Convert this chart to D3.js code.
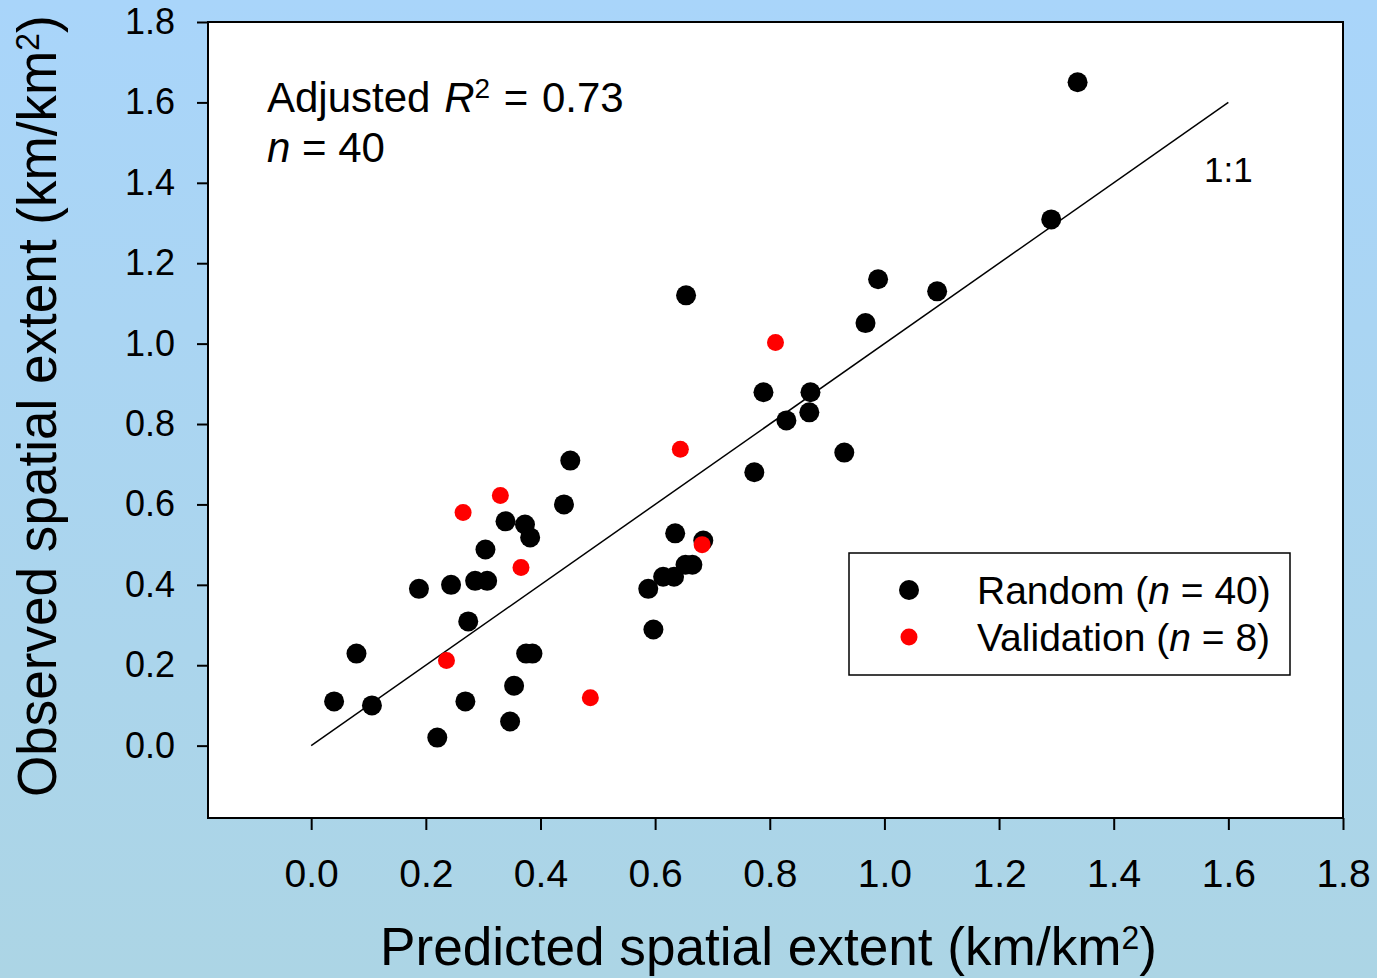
<!DOCTYPE html>
<html><head><meta charset="utf-8">
<script src="https://cdn.jsdelivr.net/npm/d3@7"></script>
<style>body{margin:0;} svg{display:block;font-family:"Liberation Sans",Arial,Helvetica,sans-serif;}</style>
</head><body>
<svg id="c" width="1377" height="978"></svg>
<script>
// ---- data ----
const randomX = [0.040,0.079,0.106,0.188,0.220,0.244,0.269,0.274,0.286,0.304,0.307,0.339,0.347,0.354,0.373,0.375,0.382,0.386,0.441,0.452,0.588,0.597,0.614,0.633,0.635,0.653,0.665,0.654,0.684,0.773,0.789,0.829,0.869,0.871,0.930,0.967,0.989,1.092,1.291,1.337];
const randomY = [0.110,0.229,0.100,0.390,0.020,0.400,0.110,0.309,0.410,0.488,0.410,0.558,0.060,0.149,0.550,0.229,0.518,0.229,0.600,0.709,0.390,0.289,0.420,0.420,0.528,0.450,0.450,1.120,0.510,0.680,0.879,0.809,0.829,0.879,0.729,1.051,1.160,1.130,1.309,1.650];
const validX = [0.236,0.265,0.330,0.366,0.487,0.644,0.682,0.810];
const validY = [0.212,0.580,0.622,0.443,0.119,0.737,0.500,1.003];
const oneToOne = [0, 1.6];
const tickValues = [0,0.2,0.4,0.6,0.8,1.0,1.2,1.4,1.6,1.8];
const tickLabels = ["0.0","0.2","0.4","0.6","0.8","1.0","1.2","1.4","1.6","1.8"];
const domainMin = -0.18, domainMax = 1.8;

// ---- layout ----
const svg = d3.select("#c");
const L = 208, R = 1343, T = 22, B = 818;
const x = d3.scaleLinear().domain([domainMin, domainMax]).range([L, R]);
const y = d3.scaleLinear().domain([domainMin, domainMax]).range([B, T]);

const defs = svg.append("defs");
const grad = defs.append("linearGradient").attr("id","bg").attr("x1",0).attr("y1",0).attr("x2",0).attr("y2",1);
grad.append("stop").attr("offset","0%").attr("stop-color","#a9d5fa");
grad.append("stop").attr("offset","100%").attr("stop-color","#acd5e5");
svg.append("rect").attr("width",1377).attr("height",978).attr("fill","url(#bg)");

svg.append("rect").attr("x",L).attr("y",T).attr("width",R-L).attr("height",B-T)
  .attr("fill","#fff").attr("stroke","#000").attr("stroke-width",2);

// axes
const xAxis = d3.axisBottom(x).tickValues(tickValues).tickFormat((d,i)=>tickLabels[i])
  .tickSize(12).tickSizeOuter(0).tickPadding(29);
const gx = svg.append("g").attr("transform",`translate(0,${B})`).call(xAxis);
gx.select(".domain").remove();
gx.selectAll("line").attr("stroke","#000").attr("stroke-width",2);
gx.selectAll("text").attr("font-size",39).attr("fill","#000").attr("font-family",null);

const yAxis = d3.axisLeft(y).tickValues(tickValues).tickFormat((d,i)=>tickLabels[i])
  .tickSize(11).tickSizeOuter(0).tickPadding(22);
const gy = svg.append("g").attr("transform",`translate(${L},0)`).call(yAxis);
gy.select(".domain").remove();
gy.selectAll("line").attr("stroke","#000").attr("stroke-width",2);
gy.selectAll("text").attr("font-size",36).attr("fill","#000").attr("font-family",null);

// 1:1 line
svg.append("line").attr("x1",x(oneToOne[0])).attr("y1",y(oneToOne[0]))
  .attr("x2",x(oneToOne[1])).attr("y2",y(oneToOne[1]))
  .attr("stroke","#000").attr("stroke-width",1.5);

// points
svg.append("g").selectAll("circle").data(randomX.map((d,i)=>[d,randomY[i]])).join("circle")
  .attr("cx",d=>x(d[0])).attr("cy",d=>y(d[1])).attr("r",10).attr("fill","#000");
svg.append("g").selectAll("circle").data(validX.map((d,i)=>[d,validY[i]])).join("circle")
  .attr("cx",d=>x(d[0])).attr("cy",d=>y(d[1])).attr("r",8.5).attr("fill","#ff0000");

// annotations
const a1 = svg.append("text").attr("x",267).attr("y",112).attr("font-size",42).attr("word-spacing",2);
a1.append("tspan").text("Adjusted ");
a1.append("tspan").attr("font-style","italic").text("R");
a1.append("tspan").attr("font-size",28).attr("dy",-14).text("2");
a1.append("tspan").attr("dy",14).text(" = 0.73");
const a2 = svg.append("text").attr("x",267).attr("y",162).attr("font-size",42);
a2.append("tspan").attr("font-style","italic").text("n");
a2.append("tspan").text(" = 40");
svg.append("text").attr("x",1204).attr("y",182).attr("font-size",35).text("1:1");

// legend
svg.append("rect").attr("x",849).attr("y",553).attr("width",441).attr("height",122)
  .attr("fill","#fff").attr("stroke","#000").attr("stroke-width",1.5);
svg.append("circle").attr("cx",909).attr("cy",590).attr("r",10).attr("fill","#000");
svg.append("circle").attr("cx",909).attr("cy",637).attr("r",8.5).attr("fill","#ff0000");
const l1 = svg.append("text").attr("x",977).attr("y",604).attr("font-size",39);
l1.append("tspan").text("Random (");
l1.append("tspan").attr("font-style","italic").text("n");
l1.append("tspan").text(" = 40)");
const l2 = svg.append("text").attr("x",977).attr("y",651).attr("font-size",39);
l2.append("tspan").text("Validation (");
l2.append("tspan").attr("font-style","italic").text("n");
l2.append("tspan").text(" = 8)");

// axis titles (condensed to fit)
function title(g, str, fs){
  const t = g.append("text").attr("font-size",fs);
  t.append("tspan").text(str);
  t.append("tspan").attr("font-size",fs*0.6).attr("dy",-fs*0.3).text("2");
  t.append("tspan").attr("dy",fs*0.3).text(")");
  return t;
}
const gxT = svg.append("g");
const xt = title(gxT, "Predicted spatial extent (km/km", 54);
let bb = xt.node().getBBox();
const xs = 777 / bb.width;
gxT.attr("transform",`translate(380,965) scale(${xs},1)`);

const gyT = svg.append("g");
const yt = title(gyT, "Observed spatial extent (km/km", 56);
bb = yt.node().getBBox();
const ys = 782 / bb.width;
gyT.attr("transform",`translate(56,797) rotate(-90) scale(${ys},1)`);
</script>
</body></html>
